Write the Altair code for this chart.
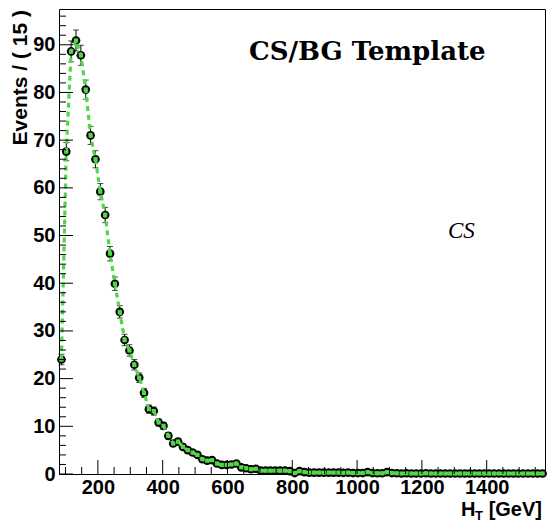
import altair as alt
import pandas as pd

# ---------------- data ----------------
bin_lo = 80
bin_w = 15
events = [24.0, 67.6, 88.6, 90.9, 87.8, 80.6, 71.0, 66.0, 59.2, 54.3,
          46.2, 39.9, 34.0, 28.1, 25.9, 22.9, 20.2, 17.0, 13.6, 13.2,
          10.8, 10.1, 8.0, 6.4, 6.8, 5.7, 5.0, 4.5, 4.0, 3.1,
          2.8, 2.9, 2.2, 1.9, 1.9, 2.0, 2.2, 1.4, 1.2, 1.0,
          1.1, 0.7, 0.7, 0.7, 0.7, 0.7, 0.7, 0.6, 0.2, 0.6,
          0.4, 0.3, 0.3, 0.3, 0.3, 0.3, 0.3, 0.3, 0.25, 0.3,
          0.2, 0.2, 0.2, 0.4, 0.2, 0.15, 0.15, 0.4, 0.2, 0.15,
          0.1, 0.15, 0.1, 0.1, 0.1, 0.15, 0.1, 0.1, 0.1, 0.1,
          0.1, 0.1, 0.1, 0.1, 0.1, 0.1, 0.1, 0.1, 0.1, 0.1,
          0.1, 0.1, 0.1, 0.1, 0.1, 0.1, 0.1, 0.1, 0.1, 0.1]
errors = [1.1, 1.9, 2.2, 2.2, 2.1, 2.0, 1.9, 1.8, 1.7, 1.6,
          1.5, 1.4, 1.3, 1.2, 1.2, 1.1, 1.0, 0.95, 0.85, 0.85,
          0.75, 0.73, 0.65, 0.58, 0.6, 0.55, 0.5, 0.48, 0.45, 0.4,
          0.38, 0.39, 0.34, 0.32, 0.32, 0.33, 0.34, 0.27, 0.25, 0.23,
          0.24, 0.2, 0.2, 0.2, 0.2, 0.2, 0.2, 0.18, 0.1, 0.18,
          0.15, 0.13, 0.13, 0.13, 0.13, 0.13, 0.13, 0.13, 0.12, 0.13,
          0.1, 0.1, 0.1, 0.15, 0.1, 0.09, 0.09, 0.15, 0.1, 0.09,
          0.07, 0.09, 0.07, 0.07, 0.07, 0.09, 0.07, 0.07, 0.07, 0.07,
          0.07, 0.07, 0.07, 0.07, 0.07, 0.07, 0.07, 0.07, 0.07, 0.07,
          0.07, 0.07, 0.07, 0.07, 0.07, 0.07, 0.07, 0.07, 0.07, 0.07]
template = events  # CS template overlay follows the same bins

x_labels = [200, 400, 600, 800, 1000, 1200, 1400]
x_major = [200, 400, 600, 800, 1000, 1200, 1400]
x_minor = [100, 150, 250, 300, 350, 450, 500, 550, 650, 700, 750, 850, 900, 950,
           1050, 1100, 1150, 1250, 1300, 1350, 1450, 1500, 1550]
y_labels = [0, 10, 20, 30, 40, 50, 60, 70, 80, 90]
y_minor = [2, 4, 6, 8, 12, 14, 16, 18, 22, 24, 26, 28, 32, 34, 36, 38, 42, 44, 46, 48,
           52, 54, 56, 58, 62, 64, 66, 68, 72, 74, 76, 78, 82, 84, 86, 88, 92, 94, 96]

centers = [bin_lo + bin_w * (i + 0.5) for i in range(len(events))]
df = pd.DataFrame({
    "ht": centers,
    "lo": [c - bin_w / 2 for c in centers],
    "hi": [c + bin_w / 2 for c in centers],
    "ev": events,
    "tp": template,
    "elo": [v - e for v, e in zip(events, errors)],
    "ehi": [v + e for v, e in zip(events, errors)],
})

W, H = 486, 465
GREEN = "#52d648"
SANS = "Liberation Sans"

xs = alt.Scale(domain=[80, 1580], nice=False, zero=False)
ys = alt.Scale(domain=[0, 97.5], nice=False, zero=False)

x_axis = alt.Axis(values=x_labels, ticks=False, domain=False, grid=False, title=None,
                  labelFont=SANS, labelFontSize=20, labelFontWeight="bold",
                  labelColor="black", labelPadding=3, labelFlush=False,
                  labelOverlap=False, format="d")
y_axis = alt.Axis(values=y_labels, ticks=False, domain=False, grid=False, title=None,
                  labelFont=SANS, labelFontSize=20, labelFontWeight="bold",
                  labelColor="black", labelPadding=4, labelFlush=False,
                  labelOverlap=False, format="d")


def X(f):
    return alt.X(f, scale=xs, axis=x_axis)


def Y(f):
    return alt.Y(f, scale=ys, axis=y_axis)


base = alt.Chart(df)

err_v = base.mark_rule(color="black", strokeWidth=1).encode(
    x=X("ht:Q"), y=Y("elo:Q"), y2="ehi:Q")
cap_top = base.mark_tick(color="black", orient="horizontal", thickness=1, size=6).encode(
    x=X("ht:Q"), y=Y("ehi:Q"))
cap_bot = base.mark_tick(color="black", orient="horizontal", thickness=1, size=6).encode(
    x=X("ht:Q"), y=Y("elo:Q"))
err_h = base.mark_rule(color="black", strokeWidth=1).encode(
    x=X("lo:Q"), x2="hi:Q", y=Y("ev:Q"))
pts = base.mark_circle(color="black", opacity=1, size=75).encode(
    x=X("ht:Q"), y=Y("ev:Q"))
line = base.mark_line(color=GREEN, strokeWidth=3.2, strokeDash=[5, 4]).encode(
    x=X("ht:Q"), y=Y("tp:Q"))
gpts = base.mark_square(color=GREEN, opacity=1, size=18).encode(
    x=X("ht:Q"), y=Y("tp:Q"))

# inward axis ticks
ymaj = alt.Chart(pd.DataFrame({"v": y_labels})).mark_rule(color="black", strokeWidth=1).encode(
    y=Y("v:Q"), x=alt.value(0), x2=alt.value(14))
ymin = alt.Chart(pd.DataFrame({"v": y_minor})).mark_rule(color="black", strokeWidth=1).encode(
    y=Y("v:Q"), x=alt.value(0), x2=alt.value(7))
xmaj = alt.Chart(pd.DataFrame({"v": x_major})).mark_rule(color="black", strokeWidth=1).encode(
    x=X("v:Q"), y=alt.value(H), y2=alt.value(H - 14))
xmin = alt.Chart(pd.DataFrame({"v": x_minor})).mark_rule(color="black", strokeWidth=1).encode(
    x=X("v:Q"), y=alt.value(H), y2=alt.value(H - 7))

one = pd.DataFrame({"a": [0]})
ytitle = alt.Chart(one).mark_text(text="Events / ( 15 )", font=SANS, fontSize=21,
                                  fontWeight="bold", angle=270, align="right",
                                  baseline="alphabetic", color="black").encode(
    x=alt.value(-32), y=alt.value(1))
xt_h = alt.Chart(one).mark_text(text="H", font=SANS, fontSize=20, fontWeight="bold",
                                align="left", baseline="alphabetic", color="black").encode(
    x=alt.value(402), y=alt.value(507))
xt_t = alt.Chart(one).mark_text(text="T", font=SANS, fontSize=13, fontWeight="bold",
                                align="left", baseline="alphabetic", color="black").encode(
    x=alt.value(416), y=alt.value(511))
xt_g = alt.Chart(one).mark_text(text="[GeV]", font=SANS, fontSize=20, fontWeight="bold",
                                align="right", baseline="alphabetic", color="black").encode(
    x=alt.value(483), y=alt.value(507))
title = alt.Chart(one).mark_text(text="CS/BG Template", font="DejaVu Serif", fontSize=26,
                                 fontWeight="bold", align="left", baseline="alphabetic",
                                 color="black").encode(
    x=alt.value(190), y=alt.value(51))
cs = alt.Chart(one).mark_text(text="CS", font="Liberation Serif", fontSize=23,
                              fontStyle="italic", align="left", baseline="alphabetic",
                              color="black").encode(
    x=alt.value(389), y=alt.value(229))

chart = alt.layer(err_v, cap_top, cap_bot, err_h, pts, line, gpts,
                  ymaj, ymin, xmaj, xmin, ytitle, xt_h, xt_t, xt_g, title, cs).properties(
    width=W, height=H,
    autosize=alt.AutoSizeParams(type="none"),
    padding={"left": 59, "top": 9, "right": 2, "bottom": 49},
    background="white",
).configure_view(stroke="black", strokeWidth=1)

chart.save("out.html", embed_options={"renderer": "svg", "actions": False})
